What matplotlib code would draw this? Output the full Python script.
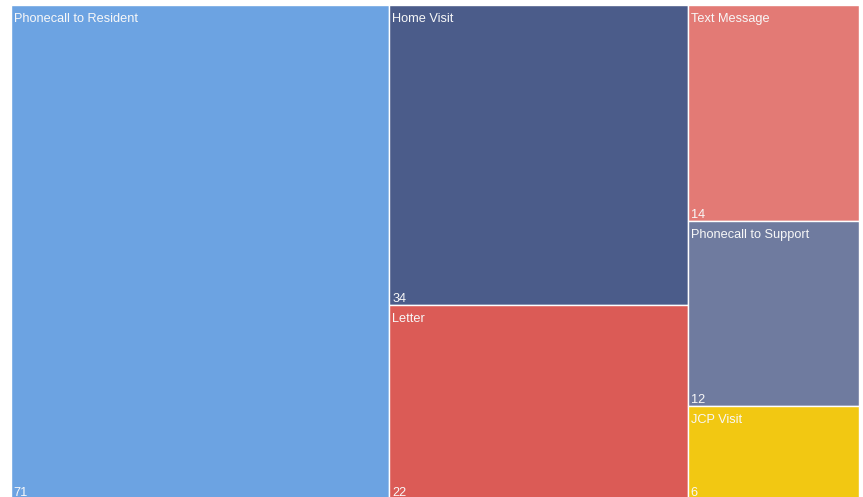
import matplotlib.pyplot as plt
from matplotlib.patches import Rectangle

labels = ["Phonecall to Resident", "Home Visit", "Letter",
          "Text Message", "Phonecall to Support", "JCP Visit"]
values = [71, 34, 22, 14, 12, 6]
colors = ["#6CA3E2", "#4B5C8A", "#DB5B56", "#E37A75", "#6F7B9F", "#F2C812"]

plt.rcParams['font.family'] = ['Liberation Sans', 'DejaVu Sans']

W, H = 848.0, 493.5


def worst(strip, total, width_left, height):
    # worst aspect ratio of a vertical strip
    s = sum(strip)
    w = s / total * width_left
    ratios = []
    for v in strip:
        h = v / s * height
        ratios.append(max(w / h, h / w))
    return max(ratios)


def layout(vals, width, height):
    # squarified layout with vertical strips, left to right
    rects = []
    x = 0.0
    i = 0
    remaining = sum(vals)
    width_left = width
    while i < len(vals):
        strip = [vals[i]]
        j = i + 1
        while j < len(vals):
            cand = strip + [vals[j]]
            if worst(cand, remaining, width_left, height) <= worst(strip, remaining, width_left, height):
                strip = cand
                j += 1
            else:
                break
        s = sum(strip)
        w = s / remaining * width_left
        y = 0.0
        for v in strip:
            h = v / s * height
            rects.append((x, y, w, h))
            y += h
        x += w
        width_left -= w
        remaining -= s
        i = j
    return rects


fig = plt.figure(figsize=(8.63, 4.97), dpi=100)
ax = fig.add_axes([10.5 / 863, (497 - 5 - H) / 497, W / 863, H / 497])
ax.set_xlim(0, W)
ax.set_ylim(H, 0)
ax.axis('off')

for (x, y, w, h), lab, val, col in zip(layout(values, W, H), labels, values, colors):
    ax.add_patch(Rectangle((x, y), w, h, facecolor=col, edgecolor='white', linewidth=1))
    ax.text(x + 3, y + 8, lab, color='#F8F8F8', fontsize=9.2, va='top', ha='left')
    ax.text(x + 3, y + h - 3, str(val), color='#F8F8F8', fontsize=9.2, va='baseline', ha='left')

fig.savefig('out.png', dpi=100)
